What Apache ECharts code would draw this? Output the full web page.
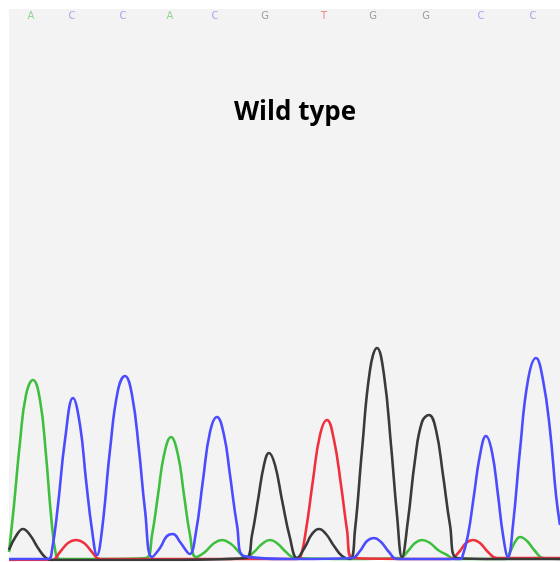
<!DOCTYPE html>
<html><head><meta charset="utf-8">
<script src="https://cdn.jsdelivr.net/npm/echarts@6/dist/echarts.min.js"></script>
<style>html,body{margin:0;padding:0;background:#fff}#c{width:560px;height:562px}</style>
</head><body><div id="c"></div>
<script>
// Trace data: [scan position, signal]
var traceA = [[9,8],[14,55],[20,118],[26,165],[33,180],[40,160],[46,105],[51,45],[56,5],[60,1],[100,1],[146,2],[152,25],[158,65],[164,105],[171,123],[178,105],[184,65],[190,25],[196,3],[205,8],[213,16],[222,20],[231,16],[239,8],[246,2],[254,8],[262,16],[270,20],[278,16],[286,8],[295,2],[350,1],[400,2],[408,9],[415,17],[422,20],[430,17],[438,10],[447,5],[455,1],[505,1],[510,8],[515,18],[520,23],[527,19],[535,9],[543,2],[560,1]];
var traceC = [[9,1],[48,1],[52,10],[58,55],[65,120],[73,162],[80,135],[86,80],[92,30],[97,5],[102,30],[110,110],[118,170],[125,184],[132,165],[139,110],[145,50],[152,3],[160,12],[167,24],[173,26],[180,18],[188,7],[190,6],[196,28],[203,80],[210,128],[217,143],[224,125],[230,85],[237,35],[244,4],[300,1],[352,2],[360,9],[367,19],[374,22],[381,18],[389,8],[397,1],[460,1],[462,2],[468,25],[474,65],[480,105],[486,124],[492,108],[498,65],[503,25],[508,3],[513,35],[520,110],[528,180],[536,202],[543,180],[550,130],[556,65],[560,35]];
var traceG = [[9,10],[16,24],[23,31],[30,25],[38,12],[46,2],[52,0],[150,0],[246,2],[252,25],[258,60],[264,95],[269,107],[275,95],[282,60],[290,22],[297,2],[305,13],[312,26],[319,31],[326,26],[334,14],[342,4],[350,1],[355,30],[362,110],[370,190],[377,212],[384,185],[391,115],[397,45],[402,3],[408,40],[415,100],[422,138],[429,145],[436,130],[443,85],[450,35],[457,2],[500,1],[560,1]];
var traceT = [[9,0],[52,0],[60,8],[68,17],[76,20],[84,17],[92,8],[100,1],[297,1],[300,2],[306,30],[313,80],[320,125],[327,140],[334,120],[341,75],[347,30],[352,2],[450,1],[459,8],[466,17],[473,20],[480,17],[488,8],[497,2],[560,2]];
// Base calls
var bases = ['A','C','C','A','C','G','T','G','G','C','C'];
var basePos = [31,72,123,170,215,265,324,373,426,481,533];
var titleText = 'Wild type';

var baseColors = {A:'#7fc87f', C:'#9090ee', G:'#8a8a8a', T:'#f07070'};
var lineColors = {A:'#3fbf3f', C:'#4b4bff', G:'#3a3a3a', T:'#f0303c'};

var chart = echarts.init(document.getElementById('c'));
function trace(name, data){
  return {type:'line', name:name, data:data, smooth:0.45, symbol:'none',
    lineStyle:{color:lineColors[name], width:2.6}, animation:false, z:2};
}
chart.setOption({
  animation:false,
  grid:{left:9, top:9, right:0, bottom:2, show:true, backgroundColor:'#f3f3f3', borderWidth:0},
  xAxis:{type:'value', min:9, max:560, show:false},
  yAxis:{type:'value', min:0, max:551, show:false},
  series:[
    trace('A', traceA), trace('T', traceT), trace('G', traceG), trace('C', traceC),
    {type:'scatter', symbolSize:0, silent:true,
     data: bases.map(function(b,i){return {value:[basePos[i],544], label:{color:baseColors[b]}, name:b};}),
     label:{show:true, position:'inside', formatter:function(p){return p.name;}, fontSize:10, fontFamily:'DejaVu Sans'}}
  ],
  graphic:[{type:'text', x:295, y:113, style:{text:titleText, fill:'#000', font:'bold 26px "Open Sans"', textAlign:'center', textVerticalAlign:'middle'}}]
});
</script></body></html>
